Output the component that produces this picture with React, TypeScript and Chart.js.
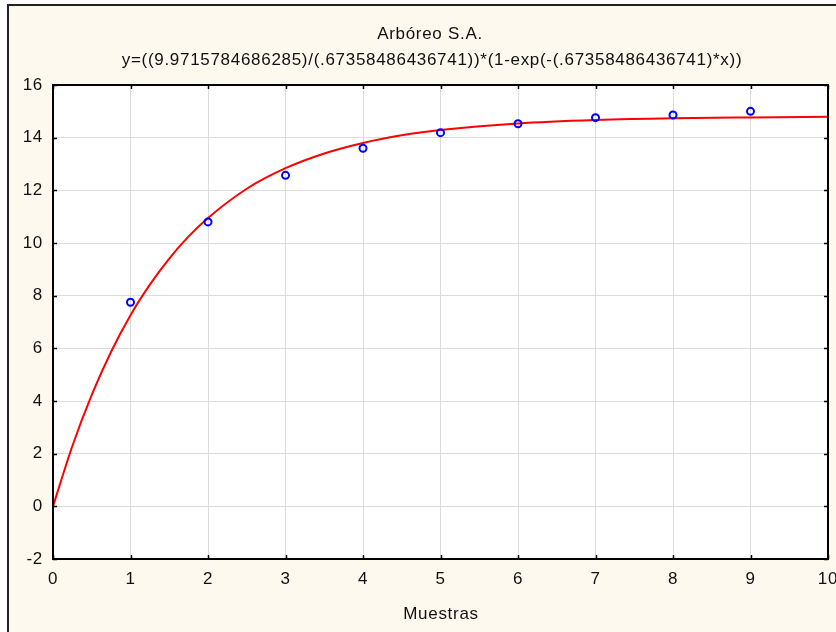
import React, { useEffect, useRef } from "react";
import { Chart, registerables } from "chart.js";

Chart.register(...registerables);

const titleText = "Arbóreo S.A.";
const subtitleText = "y=((9.9715784686285)/(.67358486436741))*(1-exp(-(.67358486436741)*x))";
const xAxisTitle = "Muestras";

const sampleX = [1, 2, 3, 4, 5, 6, 7, 8, 9];
const sampleY = [7.75, 10.8, 12.57, 13.6, 14.19, 14.53, 14.76, 14.86, 15.0];

const curveX = [0, 0.25, 0.5, 0.75, 1, 1.25, 1.5, 1.75, 2, 2.5, 3, 3.5, 4, 4.5, 5, 6, 7, 8, 9, 10];
const curveY = [0, 2.29, 4.23, 5.87, 7.26, 8.42, 9.41, 10.25, 10.95, 12.06, 12.84, 13.4, 13.8, 14.09, 14.29, 14.54, 14.67, 14.74, 14.77, 14.79];

const FONT = "'Liberation Sans', Arial, sans-serif";
const SPACING = "0.7px";

const framePlugin = {
  id: "frame",
  beforeDraw(chart: any) {
    const { ctx, width, height, chartArea } = chart;
    ctx.letterSpacing = SPACING;
    ctx.save();
    ctx.fillStyle = "#ffffff";
    ctx.fillRect(0, 0, width, height);
    ctx.fillStyle = "#fdf9ef";
    ctx.fillRect(8, 5, width - 8, height - 5);
    ctx.strokeStyle = "#222222";
    ctx.lineWidth = 2;
    ctx.beginPath();
    ctx.moveTo(8, height);
    ctx.lineTo(8, 5);
    ctx.lineTo(width, 5);
    ctx.stroke();
    ctx.fillStyle = "#ffffff";
    ctx.fillRect(chartArea.left, chartArea.top, chartArea.right - chartArea.left, chartArea.bottom - chartArea.top);
    ctx.restore();
  },
  afterDraw(chart: any) {
    const { ctx, chartArea } = chart;
    const { left, right, top, bottom } = chartArea;
    const xs = chart.scales.x;
    const ys = chart.scales.y;
    ctx.save();
    ctx.strokeStyle = "#000000";
    ctx.lineWidth = 2;
    ctx.strokeRect(left, top, right - left, bottom - top);
    ctx.lineWidth = 1.5;
    ctx.beginPath();
    xs.ticks.forEach((t: any) => {
      const px = Math.round(xs.getPixelForValue(t.value)) + 0.5;
      ctx.moveTo(px, top);
      ctx.lineTo(px, top + 4);
      ctx.moveTo(px, bottom);
      ctx.lineTo(px, bottom - 4);
    });
    ys.ticks.forEach((t: any) => {
      const py = Math.round(ys.getPixelForValue(t.value)) + 0.5;
      ctx.moveTo(left, py);
      ctx.lineTo(left + 4, py);
      ctx.moveTo(right, py);
      ctx.lineTo(right - 4, py);
    });
    ctx.stroke();
    ctx.letterSpacing = SPACING;
    ctx.fillStyle = "#111111";
    ctx.textAlign = "center";
    ctx.textBaseline = "middle";
    ctx.font = `17px ${FONT}`;
    ctx.fillText(titleText, 430, 34);
    ctx.fillText(subtitleText, 432, 60);
    ctx.fillText(xAxisTitle, 441, 614);
    ctx.restore();
  },
};

export default function App() {
  const ref = useRef<HTMLCanvasElement>(null);
  useEffect(() => {
    const canvas = ref.current!;
    const chart = new Chart(canvas, {
      type: "scatter",
      data: {
        datasets: [
          {
            type: "line",
            label: "fit",
            data: curveX.map((x, i) => ({ x, y: curveY[i] })),
            borderColor: "#ff0000",
            borderWidth: 2,
            pointRadius: 0,
            fill: false,
            cubicInterpolationMode: "monotone",
            order: 2,
          } as any,
          {
            label: "samples",
            data: sampleX.map((x, i) => ({ x, y: sampleY[i] })),
            borderColor: "#0000ff",
            backgroundColor: "rgba(0,0,0,0)",
            borderWidth: 2,
            pointRadius: 3.5,
            pointStyle: "circle",
            order: 1,
          },
        ],
      },
      options: {
        responsive: false,
        animation: false,
        events: [],
        layout: { padding: { left: 0, top: 85, right: 8, bottom: 0 } },
        plugins: {
          legend: { display: false },
          title: { display: false },
          tooltip: { enabled: false },
        },
        scales: {
          x: {
            type: "linear",
            min: 0,
            max: 10,
            ticks: {
              stepSize: 1,
              padding: 10,
              color: "#111111",
              font: { size: 17, family: FONT },
              maxRotation: 0,
            },
            grid: { color: "#dcdcdc", lineWidth: 1, drawTicks: false },
            border: { display: true, color: "#000", width: 2 },
            afterFit: (scale: any) => {
              scale.height = 73;
              scale.paddingLeft = 0;
              scale.paddingRight = 0;
            },
          },
          y: {
            type: "linear",
            min: -2,
            max: 16,
            ticks: {
              stepSize: 2,
              padding: 10,
              color: "#111111",
              font: { size: 17, family: FONT },
            },
            grid: { color: "#dcdcdc", lineWidth: 1, drawTicks: false },
            border: { display: true, color: "#000", width: 2 },
            afterFit: (scale: any) => {
              scale.width = 53;
              scale.paddingTop = 0;
              scale.paddingBottom = 0;
            },
          },
        },
      },
      plugins: [framePlugin],
    });
    return () => chart.destroy();
  }, []);
  return (
    <div style={{ position: "absolute", left: 0, top: 0, width: 836, height: 632 }}>
      <canvas ref={ref} width={836} height={632} />
    </div>
  );
}
